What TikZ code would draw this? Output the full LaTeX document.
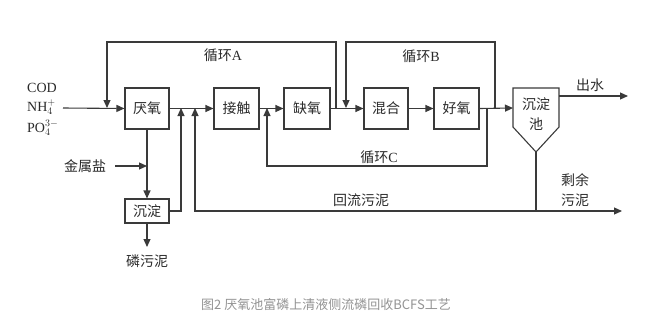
\documentclass[tikz,border=0pt]{standalone}
\usepackage{fontspec}
\setmainfont{Liberation Serif}
\newfontfamily\cjk{Noto Sans CJK SC}
\usetikzlibrary{arrows.meta}
\definecolor{ln}{HTML}{3A3A3A}
\definecolor{tx}{HTML}{2A2A2A}
\begin{document}
\begin{tikzpicture}[x=1pt,y=-1pt,
  proc/.style={draw=ln,line width=1.1pt,minimum height=41pt,inner sep=0pt,font=\cjk\fontsize{14}{14}\selectfont,text=tx},
  arr/.style={draw=ln,line width=1.1pt,-{Triangle[length=8pt,width=7pt]}},
  ln/.style={draw=ln,line width=1.1pt},
  lbl/.style={font=\fontsize{14}{16}\selectfont,text=tx,inner sep=0pt}]
\useasboundingbox (0,0) rectangle (652,335);
% boxes
\node[proc,minimum width=44pt] (yan) at (147,108.5) {厌氧};
\node[proc,minimum width=45pt] (jie) at (236.5,108.5) {接触};
\node[proc,minimum width=46pt] (que) at (307,108.5) {缺氧};
\node[proc,minimum width=44pt] (hun) at (386,108.5) {混合};
\node[proc,minimum width=45pt] (hao) at (456.5,108.5) {好氧};
\node[proc,minimum width=44pt,minimum height=24pt] (chen) at (147,211) {沉淀};
% settling tank
\draw[ln] (513,88) -- (559,88) -- (559,127) -- (536,152) -- (513,127) -- cycle;
\coordinate (tankW) at (513,108);
\coordinate (tankE) at (559,96);
\coordinate (tankB) at (536,152);
\node[lbl,font=\cjk\fontsize{14}{14}\selectfont] (tankt1) at (536,104) {沉淀};
\node[lbl,font=\cjk\fontsize{14}{14}\selectfont] (tankt2) at (536,124) {池};
% coordinates
\coordinate (in) at (63,108);
\coordinate (a1) at (336,108);
\coordinate (a2) at (107,108);
\coordinate (b1) at (495,108);
\coordinate (b2) at (346,108);
\coordinate (c1) at (487,108);
\coordinate (c2) at (267,108);
\coordinate (p1) at (181,108);
\coordinate (r1) at (195,108);
\coordinate (rj) at (195,211);
\coordinate (rb) at (536,211);
\coordinate (rend) at (622,211);
\coordinate (out) at (628,96);
\coordinate (metal) at (115,166);
\coordinate (metalj) at (147,166);
\coordinate (pend) at (147,247);
% main flow
\draw[arr] (in) -- (yan.west);
\draw[arr] (yan.east) -- (jie.west);
\draw[arr] (jie.east) -- (que.west);
\draw[arr] (que.east) -- (hun.west);
\draw[arr] (hun.east) -- (hao.west);
\draw[arr] (hao.east) -- (tankW);
\draw[arr] (tankE) -- (out);
% recycles
\draw[arr] (a1) -- (336,42) -- (107,42) -- (a2);
\draw[arr] (b1) -- (495,42) -- (346,42) -- (b2);
\draw[arr] (c1) -- (487,166) -- (267,166) -- (c2);
% side stream
\draw[arr] (yan.south) -- (chen.north);
\draw[arr] (metal) -- (metalj);
\draw[arr] (chen.south) -- (pend);
\draw[arr] (chen.east) -- (181,211) -- (p1);
% sludge
\draw[ln] (tankB) -- (rb);
\draw[arr] (rb) -- (rend);
\draw[arr] (rb) -- (rj) -- (r1);
% labels
\node[lbl,anchor=west] (cod) at (27,88) {COD};
\node[lbl,anchor=west] (nh) at (27,107) {NH$_4^+$};
\node[lbl,anchor=west] (po) at (27,128) {PO$_4^{3-}$};
\node[lbl] (metalt) at (85,166) {\cjk 金属盐};
\node[lbl] (pt) at (147,261) {\cjk 磷污泥};
\node[lbl] (la) at (223,55) {{\cjk 循环}A};
\node[lbl] (lb) at (421,56) {{\cjk 循环}B};
\node[lbl] (lc) at (379,157) {{\cjk 循环}C};
\node[lbl] (lr) at (361,200) {\cjk 回流污泥};
\node[lbl] (lo) at (590,85) {\cjk 出水};
\node[lbl] (ls1) at (575,180) {\cjk 剩余};
\node[lbl] (ls2) at (575,200) {\cjk 污泥};
\node[lbl,text=gray!85,font=\cjk\fontsize{13}{13}\selectfont] (cap) at (326,305) {图2 厌氧池富磷上清液侧流磷回收BCFS工艺};
\end{tikzpicture}
\end{document}
